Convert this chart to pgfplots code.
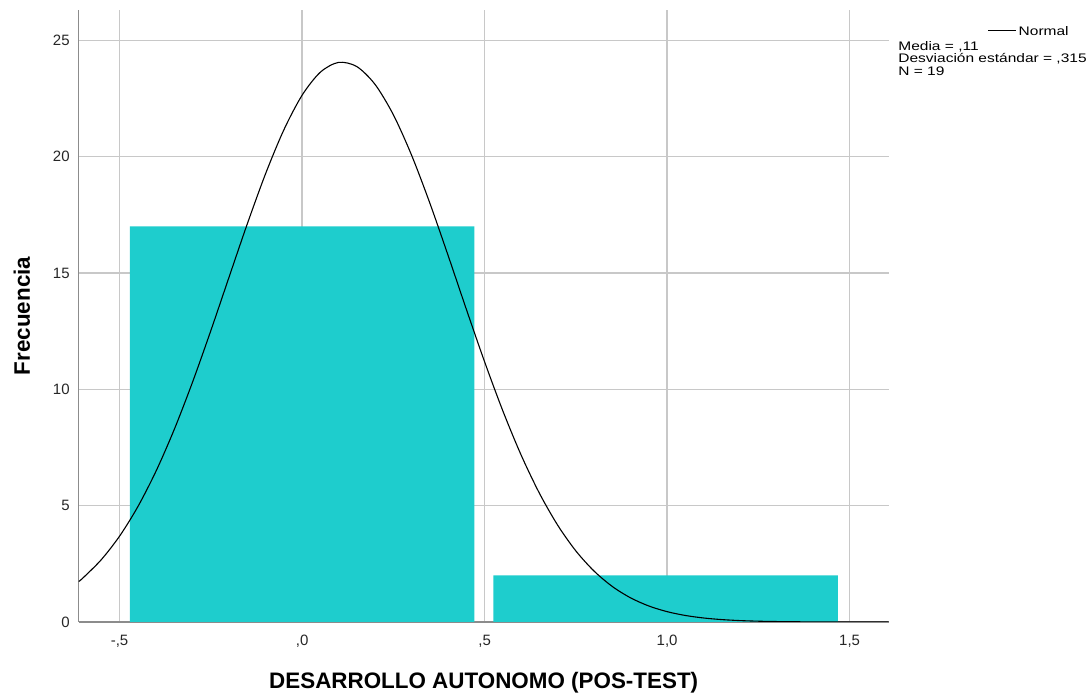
\documentclass[border=0pt]{standalone}
\usepackage{pgfplots}
\pgfplotsset{compat=1.18}
\usepackage{fontspec}
\setmainfont{Liberation Sans}
\newfontfamily\legfont[FakeStretch=1.25]{Liberation Sans}
\definecolor{barcyan}{RGB}{30,205,205}
\definecolor{gridgray}{RGB}{200,200,200}
\definecolor{axgray}{RGB}{140,140,140}
\begin{document}
\begin{tikzpicture}[x=1pt,y=1pt]
% picture frame in px (0.5pt per px), plot lower-left at px (78.7,622)
\path[use as bounding box] (-39.35,-36.5) rectangle (505.15,311);
\begin{axis}[
    at={(0,0)}, anchor=south west,
    scale only axis,
    width=405pt, height=306pt,
    xmin=-0.612, xmax=1.607,
    ymin=0, ymax=26.3,
    axis lines*=left,
    axis line style={axgray, line width=0.7pt},
    major tick length=0pt,
    xtick={-0.5,0,0.5,1,1.5},
    xticklabels={{-,5},{,0},{,5},{1,0},{1,5}},
    ytick={0,5,10,15,20,25},
    grid=major,
    major grid style={gridgray, line width=0.7pt},
    /pgf/number format/assume math mode=true,
    tick label style={font=\fontsize{7.5}{9}\selectfont, text=black!85},
    yticklabel style={xshift=-1pt},
    xticklabel style={yshift=-3pt},
    xlabel={DESARROLLO AUTONOMO (POS-TEST)},
    ylabel={Frecuencia},
    label style={font=\fontsize{11.2}{13}\selectfont\bfseries},
    xlabel style={at={(axis description cs:0.5,-0.0997)}, anchor=center},
    ylabel style={at={(axis description cs:-0.070,0.5)}, anchor=center},
    clip=true,
]
% histogram bars
\addplot[ybar, bar width=0.944, fill=barcyan, draw=none, bar shift=0pt] coordinates {
(0.0, 17)
(0.996, 2)
};
% normal curve (Media = ,11; Desv. = ,315; N = 19)
\addplot[black, line width=0.55pt, smooth] coordinates {
(-0.612, 1.74)
(-0.60, 1.897)
(-0.55, 2.680)
(-0.50, 3.690)
(-0.45, 4.955)
(-0.40, 6.487)
(-0.35, 8.283)
(-0.30, 10.314)
(-0.25, 12.522)
(-0.20, 14.825)
(-0.15, 17.114)
(-0.10, 19.266)
(-0.05, 21.148)
(0.00, 22.637)
(0.05, 23.627)
(0.10, 24.048)
(0.15, 23.867)
(0.20, 23.098)
(0.25, 21.797)
(0.30, 20.058)
(0.35, 17.999)
(0.40, 15.750)
(0.45, 13.437)
(0.50, 11.180)
(0.55, 9.070)
(0.60, 7.175)
(0.65, 5.536)
(0.70, 4.164)
(0.75, 3.054)
(0.80, 2.185)
(0.85, 1.524)
(0.90, 1.036)
(0.95, 0.687)
(1.00, 0.444)
(1.05, 0.280)
(1.10, 0.172)
(1.15, 0.103)
(1.20, 0.060)
(1.25, 0.034)
(1.30, 0.019)
(1.35, 0.010)
(1.40, 0.005)
(1.45, 0.003)
(1.50, 0.001)
(1.55, 0.000)
(1.607, 0.000)
};
\end{axis}
% legend text (outside plot, top right)
\draw[black, line width=0.5pt] (454.65,295.5) -- (468.65,295.5);
\node[anchor=west, inner sep=0pt, font=\legfont\fontsize{6.2}{6}\selectfont] at (469.8,295.5) {Normal};
\node[anchor=north west, inner sep=0pt, align=left, font=\legfont\fontsize{6.2}{6.1}\selectfont] at (409.65,290.3)
  {Media = ,11\\Desviación estándar = ,315\\N = 19};
\end{tikzpicture}
\end{document}
